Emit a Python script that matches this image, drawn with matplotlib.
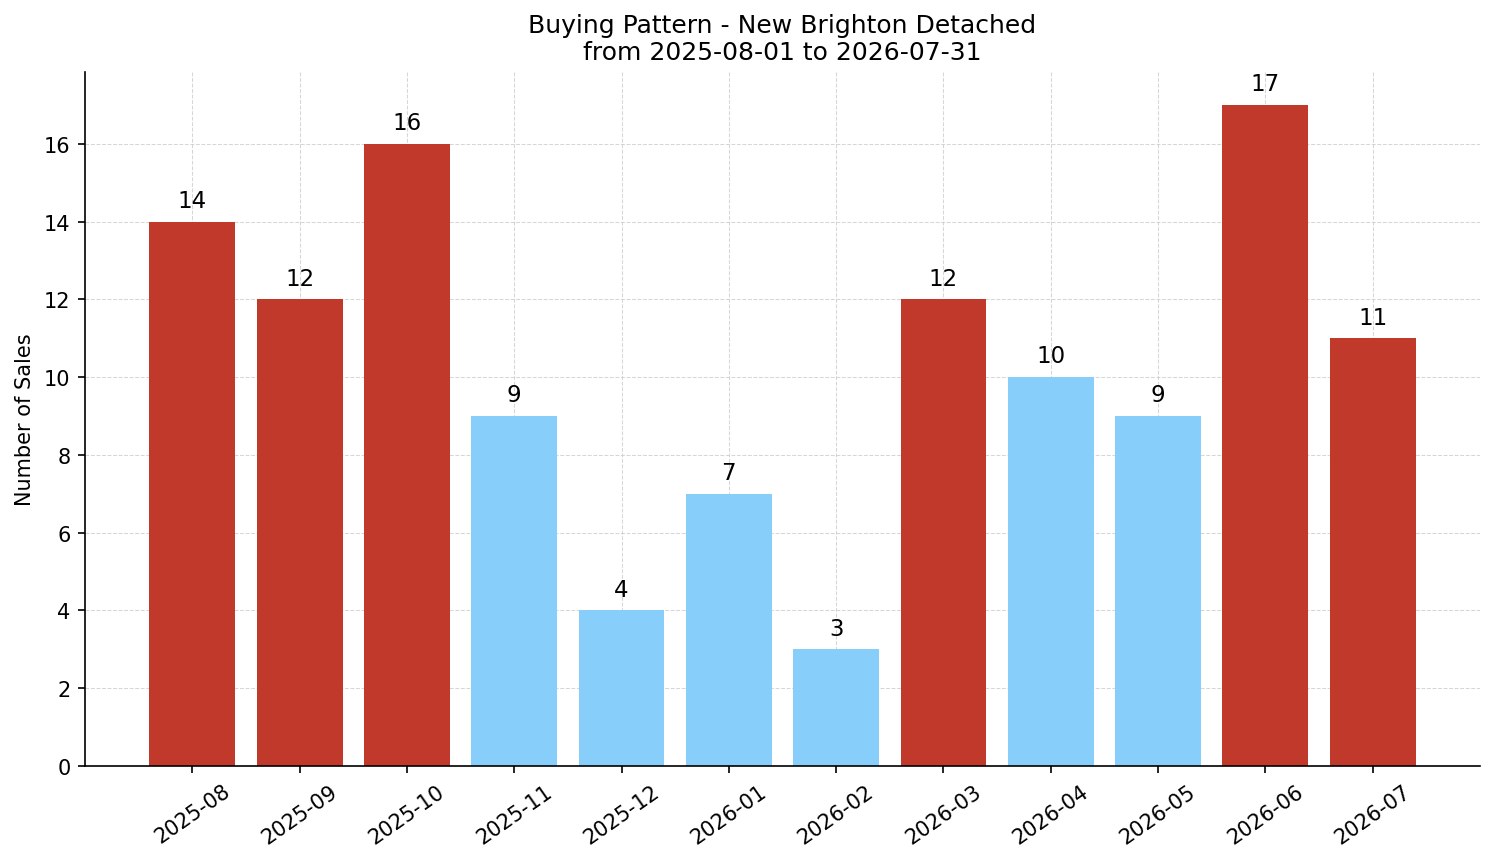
import numpy as np
import matplotlib
matplotlib.use("Agg")
import matplotlib.pyplot as plt

months = ['2025-08', '2025-09', '2025-10', '2025-11', '2025-12', '2026-01',
          '2026-02', '2026-03', '2026-04', '2026-05', '2026-06', '2026-07']
sales = [14, 12, 16, 9, 4, 7, 3, 12, 10, 9, 17, 11]

high_color = '#c0392b'
low_color = '#87cefa'

avg = np.mean(sales)
colors = [high_color if s > avg else low_color for s in sales]

fig = plt.figure(figsize=(9.96, 5.753), dpi=150)
ax = fig.add_axes([85 / 1494, 1 - 767 / 863, (1480 - 85) / 1494, (767 - 73) / 863])

x = np.arange(len(months))
bars = ax.bar(x, sales, width=0.8, color=colors, zorder=2)
for b, s in zip(bars, sales):
    ax.text(b.get_x() + b.get_width() / 2, s + 0.25, str(s), ha='center', va='bottom', fontsize=11)

ax.set_xticks(x)
ax.set_xticklabels(months, rotation=35)
ax.set_xlim(-1, 12)
ax.set_ylim(0, max(sales) * 1.05)
ax.set_ylabel('Number of Sales', fontsize=10)
ax.set_title('Buying Pattern - New Brighton Detached\nfrom 2025-08-01 to 2026-07-31', fontsize=12)
ax.grid(True, linestyle='--', linewidth=0.5, color='#cccccc', alpha=0.8, zorder=3)
ax.spines['top'].set_visible(False)
ax.spines['right'].set_visible(False)
ax.tick_params(labelsize=10)

fig.savefig('out.png', dpi=150)
